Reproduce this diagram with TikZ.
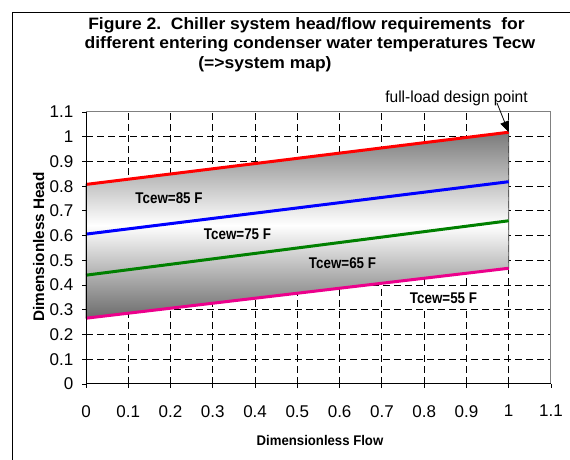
\documentclass[tikz,border=0pt]{standalone}
\usepackage{fontspec}
\setmainfont{Liberation Sans}
\usepackage{graphicx}
\usetikzlibrary{arrows.meta}
\frenchspacing
\begin{document}
\begin{tikzpicture}[x=1pt,y=1pt,
  gridline/.style={black,line width=0.8pt,dash pattern=on 7pt off 4pt},
  curve/.style={line width=3pt},
  ticklbl/.style={font=\fontsize{17}{20}\selectfont,inner sep=0pt},
  ttl/.style={font=\bfseries\fontsize{16.5}{19}\selectfont,inner sep=0pt,anchor=base},
  tlbl/.style={font=\bfseries\fontsize{15.5}{18}\selectfont,inner sep=0pt,anchor=base},
]
\useasboundingbox (0,0) rectangle (570,460);
\draw[line width=1.2pt] (12.7,0) -- (12.7,447.3) -- (570,447.3);

\node[ttl] (t1) at (306.5,430.5) {\scalebox{1.06}[1]{Figure 2.\ \ Chiller system head/flow requirements\ \ for}};
\node[ttl] (t2) at (310,411) {\scalebox{1.06}[1]{different entering condenser water temperatures Tecw}};
\node[ttl] (t3) at (265,391.5) {\scalebox{1.06}[1]{(=>system map)}};

\begin{scope}[shift={(86,76)},x=422.7pt,y=247.3pt]
  \foreach \i in {1,...,10} {
    \draw[gridline] (0,\i/10) -- (1.1,\i/10);
    \draw[gridline] (\i/10,0) -- (\i/10,1.1);
  }
  \draw[draw=black!70,line width=0.8pt,top color=black!52,bottom color=black!58,middle color=white]
    (0,0.807) -- (1,1.018) -- (1,0.468) -- (0,0.266) -- cycle;
  \draw[curve,red] (0,0.807) -- (1,1.018);
  \draw[curve,blue] (0,0.606) -- (1,0.818);
  \draw[curve,green!50!black] (0,0.44) -- (1,0.66);
  \draw[curve,magenta] (0,0.266) -- (1,0.468);
  \coordinate (dp) at (1,1.018);
  \draw[black!50,line width=1pt] (0,1.1) -- (1.1,1.1) -- (1.1,0);
  \draw[black,line width=1pt] (0,1.1) -- (0,0) -- (1.1,0);
  \foreach \v [count=\k] in {0,0.1,0.2,0.3,0.4,0.5,0.6,0.7,0.8,0.9,1,1.1} {
    \draw[line width=0.8pt] (0,\v) -- ++(-4pt,0);
    \draw[line width=0.8pt] (\v,0) -- ++(0,-4pt);
    \node[ticklbl,anchor=east] (yl\k) at ([xshift=-12.5pt]0,\v) {\v};
    \node[ticklbl,anchor=north] (xl\k) at ([yshift=-21pt]\v,0) {\v};
  }
\end{scope}

\node[tlbl] (c85) at (169,256.7) {\scalebox{0.863}[1]{Tcew=85 F}};
\node[tlbl] (c75) at (237.5,220) {\scalebox{0.863}[1]{Tcew=75 F}};
\node[tlbl] (c65) at (342.5,191.7) {\scalebox{0.863}[1]{Tcew=65 F}};
\node[tlbl,fill=white,inner xsep=4pt,inner ysep=4pt] (c55) at (443.5,156) {\scalebox{0.863}[1]{Tcew=55 F}};

\node[font=\fontsize{16}{19}\selectfont,inner sep=0pt,anchor=base] (fl) at (456.5,357) {\scalebox{0.97}[1]{full-load design point}};
\coordinate (fs) at (497,357);
\draw[line width=0.8pt,-{Triangle[length=11pt,width=9pt]}] (fs) -- (dp);

\node[font=\bfseries\fontsize{15.3}{18}\selectfont,inner sep=0pt,anchor=base,rotate=90] (yt) at (44,213) {Dimensionless Head};
\node[font=\bfseries\fontsize{14}{17}\selectfont,inner sep=0pt,anchor=base] (xt) at (320,14) {\scalebox{0.94}[1]{Dimensionless Flow}};
\end{tikzpicture}
\end{document}
